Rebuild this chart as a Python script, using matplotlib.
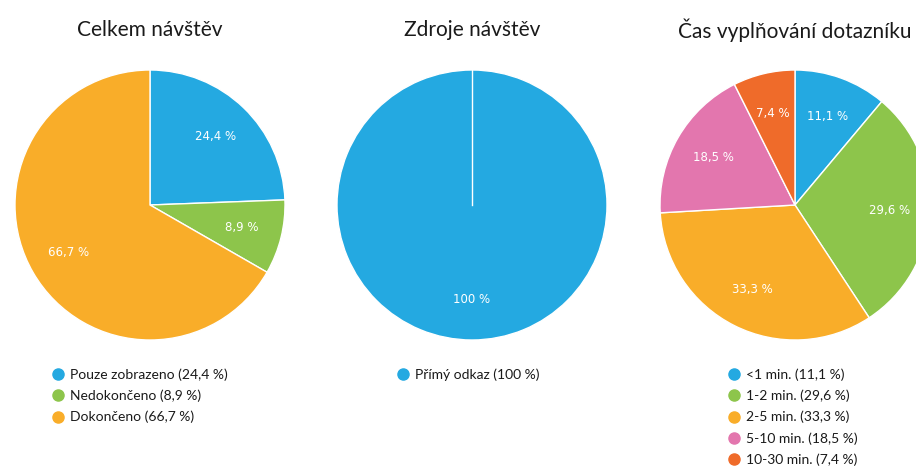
import matplotlib
matplotlib.use("Agg")
import matplotlib.pyplot as plt
from matplotlib.lines import Line2D
import numpy as np

plt.rcParams['font.family'] = ['Lato', 'DejaVu Sans']

W, H = 916, 474

# data
titles = ["Celkem návštěv", "Zdroje návštěv", "Čas vyplňování dotazníku"]

visits_labels = ["Pouze zobrazeno", "Nedokončeno", "Dokončeno"]
visits_values = [24.4, 8.9, 66.7]
visits_colors = ["#24a9e1", "#8dc54b", "#f9ad29"]

source_labels = ["Přímý odkaz"]
source_values = [100]
source_colors = ["#24a9e1"]

time_labels = ["<1 min.", "1-2 min.", "2-5 min.", "5-10 min.", "10-30 min."]
time_values = [11.1, 29.6, 33.3, 18.5, 7.4]
time_colors = ["#24a9e1", "#8dc54b", "#f9ad29", "#e376ae", "#ef6b2a"]


def fmt(v):
    s = f"{v:.1f}".replace(".", ",")
    if s.endswith(",0"):
        s = s[:-2]
    return s + " %"


def draw_pie(cx, title, labels, values, colors, legend_x):
    r = 135
    cy = 205
    ax = fig.add_axes([(cx - r) / W, (H - cy - r) / H, 2 * r / W, 2 * r / H])
    wedges, texts = ax.pie(values, colors=colors, startangle=90, counterclock=False,
                           labels=[fmt(v) for v in values], labeldistance=0.7,
                           wedgeprops=dict(edgecolor="white", linewidth=1),
                           textprops=dict(color="white", fontsize=8.5, family="DejaVu Sans"))
    for t in texts:
        t.set_horizontalalignment("center")
        t.set_verticalalignment("center")
    if len(wedges) == 1:
        # full circle has no radial edge, draw the seam like the original
        w = wedges[0]
        a = np.deg2rad(w.theta2)
        ax.plot([0, w.r * np.cos(a)], [0, w.r * np.sin(a)], color="white", lw=1)
    ax.set_xlim(-1, 1)
    ax.set_ylim(-1, 1)
    ax.set_aspect("equal")
    ax.axis("off")
    fig.text(cx / W, 1 - 30 / H, title, ha="center", va="center", fontsize=15, color="#1a1a1a")

    handles = [Line2D([], [], marker="o", linestyle="", markersize=8, color=c) for c in colors]
    fig.legend(handles, [f"{l} ({fmt(v)})" for l, v in zip(labels, values)],
               loc="upper left", bbox_to_anchor=(legend_x / W, 1 - 368.5 / H),
               frameon=False, fontsize=10, handlelength=0.8, handletextpad=0.5,
               labelspacing=0.62, borderpad=0, borderaxespad=0, labelcolor="#1a1a1a")


fig = plt.figure(figsize=(W / 100, H / 100), dpi=100)
draw_pie(150, titles[0], visits_labels, visits_values, visits_colors, 52)
draw_pie(472, titles[1], source_labels, source_values, source_colors, 397)
draw_pie(795, titles[2], time_labels, time_values, time_colors, 728)

fig.savefig("out.png", dpi=100)
